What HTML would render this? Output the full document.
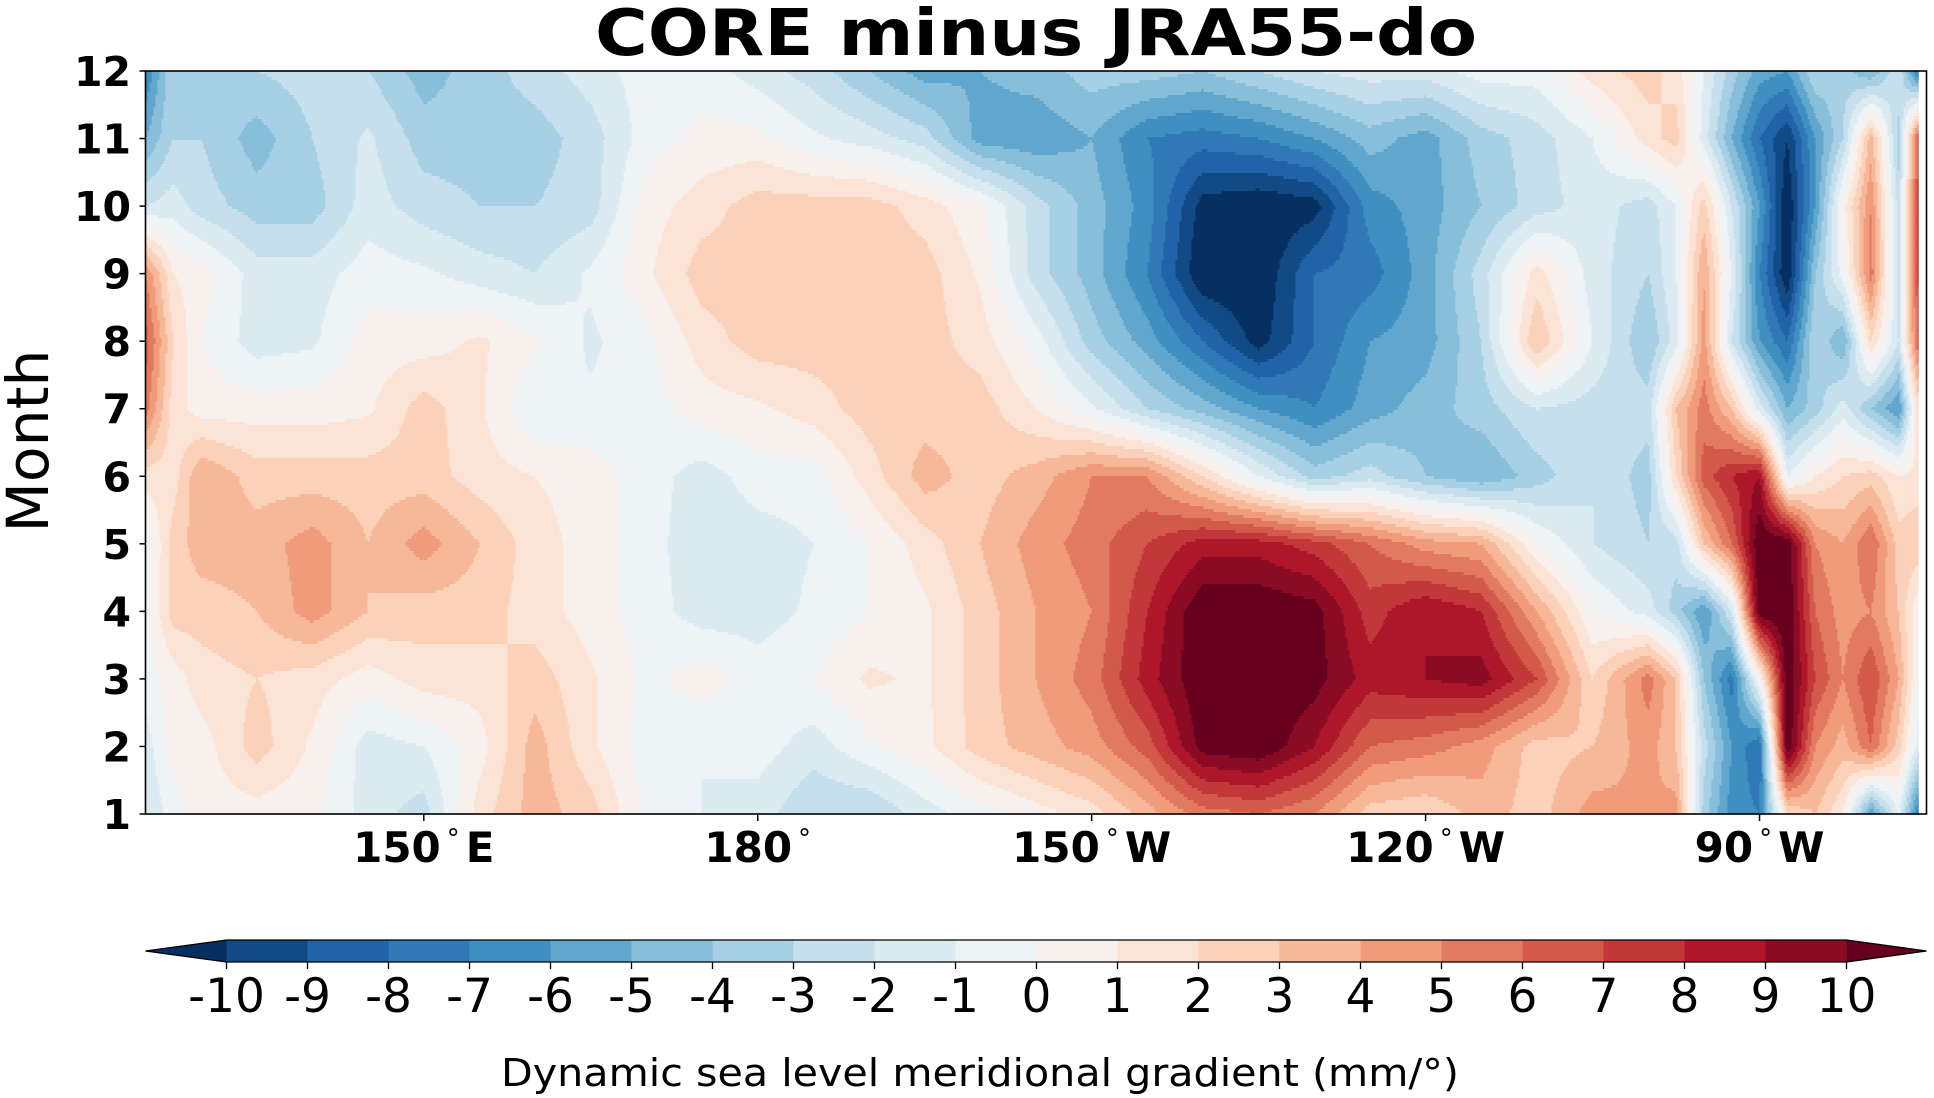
<!DOCTYPE html>
<html><head><meta charset="utf-8"><style>
html,body{margin:0;padding:0;background:#fff;}
svg{display:block;}
text{font-family:"DejaVu Sans","Liberation Sans",sans-serif;}
</style></head><body>
<svg id="chart" width="1934" height="1098" viewBox="0 0 1934 1098" xmlns="http://www.w3.org/2000/svg">
<g id="cells"></g>
<g id="axes"></g>
<g id="cbar"></g>
</svg>
<script>
const lons = [125,127.5,130,135,140,145,150,155,160,165,170,175,180,185,190,195,200,205,210,215,220,225,230,235,240,245,250,255,260,262.5,265,267.5,270,272.5,275,277.5,280,282.5,285];
const months = [1,2,3,4,5,6,7,8,9,10,11,12];
const row1  = [-2,-0.5,0.5,0.5,0.3,-1.5,-2.5,1.5,3.5,2.5,-0.3,-1,-1.5,-3,-3,-1.5,-0.5,0.5,1.5,3.5,5.5,6,5,2.5,2,3.5,2.5,4.5,4,4.5,-3.5,-6.5,-7,2,3,1,-6,-1,-10];
const row2  = [-1.5,0.5,0.5,2.5,0.8,-1.5,-1,0.5,3.5,1.2,-0.5,-1,-0.5,-1.5,-0.2,0.7,2.5,3.5,4.5,6.5,10.5,11,9,6,5.5,4.5,2.5,3,4.5,3,-2.5,-6,-8,11,5,3.5,6,2.5,-3];
const row3  = [-0.5,0.5,1.5,2,1.5,0.5,1.5,1.5,2.5,1.2,-0.3,0.5,-0.5,0,1.2,0.8,2.5,4,5.5,8.5,11,11,10.5,8.5,9,9.5,7,2,5.5,3,-4,-7.5,0,11,7,5,7,4,-2];
const row4  = [-0.5,2.5,2.5,3,4.5,3,2.5,2.5,1.5,0.5,-0.5,-1.5,-1.5,-0.8,0,0.8,2.5,4,5,8,11,11,10.5,7.5,9,8,4,0,-1.5,-3.5,-6,-2,11,11,6,4.5,5,3,-1];
const row5  = [-0.8,2.5,3.5,3.5,4.5,3,4.5,3,1.5,0.5,-0.5,-1.8,-1.5,-1,0,1.5,3,4.5,5.5,7,8.5,8.5,7.5,6,4.5,4,0,-2,-3,-2.5,3,6,11,11,5,4,6,2.5,3];
const row6  = [1.5,1.5,4,2.5,2.5,2.5,2.5,1.5,1,0.5,-0.5,-1.5,-0.5,-0.5,1.5,3.5,2.5,3.5,5,5,2,-1,-3.5,-2.5,-4,-5,-3.5,-2,-3.5,2,6.5,8,9,-1,1,2,2.5,1,1.5];
const row7  = [5.5,1.5,0.5,0.5,0.5,0.8,2.5,1.2,-1,-0.8,-0.5,0.5,0.8,1.5,2.5,2.5,2.5,1,-0.8,-3,-4.5,-6,-7,-5.5,-4.5,-3.5,-2,-2.5,-2.5,3,5.5,3,-1.5,-5,-3.5,-1.5,-4,-6,5];
const row8  = [6.5,2,0,-1.5,-1.2,0.5,0.5,1.2,0.2,-1.2,-0.3,1.5,2.5,2.5,2.5,2.5,1.5,-0.5,-3.5,-5.5,-8,-10.5,-8,-6,-5.5,-3,3,-1,-4,-1.5,4.5,-2,-6,-8,-3,-5,2,-2,10];
const row9  = [5,1,0.5,-1.5,-1.5,-0.5,-0.8,-1.5,-2,-0.8,0.8,2.5,2.5,2.5,2.8,2.5,0.8,-2.5,-4.5,-7,-11,-11,-8,-7.5,-5.5,-2.5,1.5,-1.5,-3,-1,4,-1,-7,-11,-4,-0.5,5.5,-2.5,11];
const row10 = [-2,-1.5,-2.5,-3.5,-3.5,-1.5,-2.5,-3,-3,-2.5,0.5,1.5,2.5,2.5,2.5,1.5,0.2,-2.5,-4.5,-6.5,-10.5,-11,-10.5,-6.5,-5.5,-4,-2.5,-1.5,-2.5,-1,2.5,-2,-6,-11,-6,0.5,5,-2.5,11];
const row11 = [-5,-3,-3,-4.5,-3,-1.8,-3.5,-3.5,-3.5,-2.5,-0.5,0.3,0.3,-0.8,-1.5,-2.5,-5.5,-5.8,-5,-7,-7.5,-7,-6,-4.5,-5.5,-3.5,-2.5,-1,1.5,2.5,-1.5,-5,-8,-10,-6,-3,3.5,-3.5,11];
const row12 = [-7,-3,-3.5,-3,-2.5,-3,-4.5,-3.5,-2.5,-1.5,-0.5,-0.5,-1.5,-2.5,-4,-5.5,-5,-4.5,-3.5,-3.5,-4,-3,-2,-1.5,-1.5,-0.5,-0.5,1.5,2.5,1.5,-1,-3.5,-5.5,-6,-3,-3.5,-5,-2,-10];
const grid = [row1,row2,row3,row4,row5,row6,row7,row8,row9,row10,row11,row12];
const levels = [-10,-9,-8,-7,-6,-5,-4,-3,-2,-1,0,1,2,3,4,5,6,7,8,9,10];
const xTickLons = [150,180,210,240,270];
const xTickLabels = ["150","180","150","120","90"];
const xTickHemi = ["E","","W","W","W"];
const yTicks = [1,2,3,4,5,6,7,8,9,10,11,12];

const NS="http://www.w3.org/2000/svg";
const PX0=145.5, PX1=1926.5, PY0=71, PY1=814;
const LON0=125, LON1=285, DATA_END=284.3;
const xScale = l => PX0 + (l-LON0)/(LON1-LON0)*(PX1-PX0);
const yScale = m => PY1 - (m-1)/11*(PY1-PY0);
const invX = x => LON0 + (x-PX0)/(PX1-PX0)*(LON1-LON0);
const invY = y => 1 + (PY1-y)/(PY1-PY0)*11;

const anchors=["#053061","#2166ac","#4393c3","#92c5de","#d1e5f0","#f7f7f7","#fddbc7","#f4a582","#d6604d","#b2182b","#67001f"];
function hex2rgb(h){return [parseInt(h.substr(1,2),16),parseInt(h.substr(3,2),16),parseInt(h.substr(5,2),16)];}
function cmap(t){t=Math.max(0,Math.min(1,t));const p=t*10;const i=Math.min(9,Math.floor(p));const f=p-i;
 const a=hex2rgb(anchors[i]),b=hex2rgb(anchors[i+1]);
 return "rgb("+a.map((v,k)=>Math.round(v+(b[k]-v)*f)).join(",")+")";}
const nb=levels.length-1;
const binColors=[];for(let i=0;i<nb;i++)binColors.push(cmap((i+1)/(nb+1)));
const underC=cmap(0), overC=cmap(1);
function colorIdx(v){ if(v<levels[0])return -1; if(v>=levels[nb])return nb;
 for(let i=0;i<nb;i++){if(v<levels[i+1])return i;} return nb;}
function colorOf(i){return i<0?underC:(i>=nb?overC:binColors[i]);}

function sample(lon,m){
 let j=0;while(j<lons.length-2&&lon>lons[j+1])j++;
 const fx=Math.max(0,Math.min(1,(lon-lons[j])/(lons[j+1]-lons[j])));
 let i=Math.min(10,Math.max(0,Math.floor(m-1)));const fy=Math.max(0,Math.min(1,(m-1)-i));
 const a=grid[i][j],b=grid[i][j+1],c=grid[i+1][j],d=grid[i+1][j+1];
 return a*(1-fx)*(1-fy)+b*fx*(1-fy)+c*(1-fx)*fy+d*fx*fy;}

const cells=document.getElementById('cells');
const xEnd=xScale(DATA_END);
const CW=2, CH=3;
for(let y=PY0;y<PY1;y+=CH){
 const h=Math.min(CH,PY1-y); const m=invY(y+h/2);
 let runStart=PX0, runIdx=null;
 for(let x=PX0;x<=xEnd;x+=CW){
  const idx = x+CW/2<xEnd ? colorIdx(sample(invX(x+CW/2),m)) : null;
  if(idx!==runIdx){
   if(runIdx!==null){const r=document.createElementNS(NS,'rect');
    r.setAttribute('x',runStart.toFixed(1));r.setAttribute('y',y);r.setAttribute('width',(x-runStart+0.6).toFixed(1));r.setAttribute('height',h+0.6);r.setAttribute('fill',colorOf(runIdx));
    
    
    cells.appendChild(r);}
   runStart=x;runIdx=idx;}
 }
 if(runIdx!==null){const r=document.createElementNS(NS,'rect');
  r.setAttribute('x',runStart.toFixed(1));r.setAttribute('y',y);r.setAttribute('width',(xEnd-runStart).toFixed(1));r.setAttribute('height',h+0.6);r.setAttribute('fill',colorOf(runIdx));
  
  
  cells.appendChild(r);}
}

function mk(tag,attrs,parent,txt){const e=document.createElementNS(NS,tag);for(const k in attrs)e.setAttribute(k,attrs[k]);if(txt!==undefined)e.textContent=txt;parent.appendChild(e);return e;}
const axes=document.getElementById('axes');
const frame=mk('rect',{x:PX0,y:PY0,width:PX1-PX0,height:PY1-PY0,fill:'none',stroke:'#000','stroke-width':1.6},axes);


const title=mk('text',{x:1036,y:55,'text-anchor':'middle','font-size':64,'font-weight':'bold',textLength:882,lengthAdjust:'spacingAndGlyphs'},axes,'CORE minus JRA55-do');


const ylab=mk('text',{x:0,y:0,transform:'translate(48,441) rotate(-90)','text-anchor':'middle','font-size':58,textLength:183,lengthAdjust:'spacingAndGlyphs'},axes,'Month');


yTicks.forEach(m=>{const y=yScale(m);
 const t=mk('line',{x1:PX0-6,x2:PX0,y1:y,y2:y,stroke:'#000','stroke-width':1.5},axes);
 
 
 const l=mk('text',{x:131,y:y+15,'text-anchor':'end','font-size':41,'font-weight':'bold'},axes,String(m));
 
 });
xTickLons.forEach((lo,i)=>{const x=xScale(lo);
 const t=mk('line',{x1:x,x2:x,y1:PY1,y2:PY1+7,stroke:'#000','stroke-width':1.5},axes);
 
 
 const l=mk('text',{x:x,y:862,'text-anchor':'middle','font-size':42,'font-weight':'bold'},axes);
 
 
 mk('tspan',{},l,xTickLabels[i]);
 mk('tspan',{dx:6,dy:-15,'font-size':26,'font-weight':'normal'},l,'°');
 mk('tspan',{dx:xTickHemi[i]?6:0,dy:15},l,xTickHemi[i]);});

const cb=document.getElementById('cbar');
const CX0=226.5, CX1=1846.5, CY0=940, CY1=962;
const cbX=v=>CX0+(v-levels[0])/(levels[nb]-levels[0])*(CX1-CX0);
for(let i=0;i<nb;i++){const r=mk('rect',{x:cbX(levels[i]),y:CY0,width:cbX(levels[i+1])-cbX(levels[i])+0.5,height:CY1-CY0,fill:binColors[i]},cb);
 
 }
const lt=mk('polygon',{points:`${CX0},${CY0} ${PX0},${(CY0+CY1)/2} ${CX0},${CY1}`,fill:underC},cb);


const rt=mk('polygon',{points:`${CX1},${CY0} ${PX1},${(CY0+CY1)/2} ${CX1},${CY1}`,fill:overC},cb);


const outline=mk('polygon',{points:`${CX0},${CY0} ${CX1},${CY0} ${PX1},${(CY0+CY1)/2} ${CX1},${CY1} ${CX0},${CY1} ${PX0},${(CY0+CY1)/2}`,fill:'none',stroke:'#000','stroke-width':1.3},cb);


levels.forEach(v=>{const x=cbX(v);
 const t=mk('line',{x1:x,x2:x,y1:CY1,y2:CY1+7,stroke:'#000','stroke-width':1.3},cb);
 
 
 const l=mk('text',{x:x,y:1012,'text-anchor':'middle','font-size':47},cb,String(v));
 
 });
const cbl=mk('text',{x:980,y:1086,'text-anchor':'middle','font-size':38,textLength:958,lengthAdjust:'spacingAndGlyphs'},cb,'Dynamic sea level meridional gradient (mm/°)');


</script>
</body></html>
